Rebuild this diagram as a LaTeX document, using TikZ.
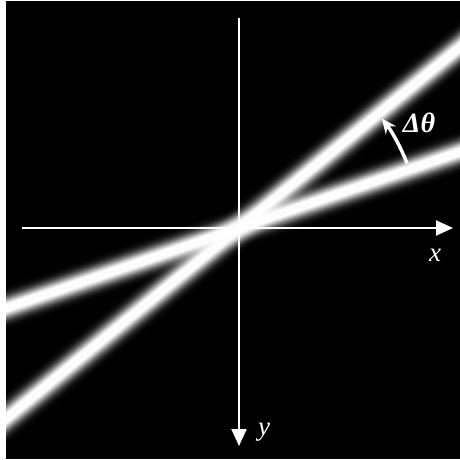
\documentclass[tikz,border=0pt]{standalone}
\usepackage{fontspec}
\setmainfont{Liberation Serif}
\usetikzlibrary{arrows.meta}
\begin{document}
\begin{tikzpicture}[x=1pt,y=1pt,
  axis/.style={white, line width=2pt, -{Triangle[length=17pt,width=15pt]}},
  lbl/.style={white, font=\fontsize{27}{27}\selectfont\itshape, inner sep=0pt},
  turn/.style={white, line width=3.5pt, -{Stealth[length=15pt,width=13pt]}}]
\fill[white] (0,0) rectangle (460,459);
\fill[black] (6,0) rectangle (460,458);
\useasboundingbox (0,0) rectangle (460,459);
\coordinate (O) at (239,231);
\begin{scope}
\clip (6,0) rectangle (460,458);
\foreach \ang in {39.3,19}{
  \foreach \rr in {24,23,...,1}{
    \pgfmathsetmacro\Ia{min(0.995,1.1*exp(-((\rr-1)*(\rr-1))/98))}
    \pgfmathsetmacro\Ib{min(0.995,1.1*exp(-(\rr*\rr)/98))}
    \pgfmathsetmacro\al{1-(1-\Ia)/(1-\Ib)}
    \draw[white, opacity=\al, line width={2*\rr*1pt}] ([shift={(\ang:-400)}]O) -- ([shift={(\ang:400)}]O);
  }
}
\end{scope}
\coordinate (xs) at (22,231);
\coordinate (xe) at (453,231);
\coordinate (ys) at (239,441);
\coordinate (ye) at (239,13);
\draw[axis] (xs) -- (xe);
\draw[axis] (ys) -- (ye);
\node[lbl] (lx) at (435,204) {x};
\node[lbl] (ly) at (264,27) {y};
\node[lbl, font=\fontsize{28}{28}\selectfont\bfseries\itshape] (ld) at (419,336) {Δθ};
\coordinate (a0) at ([shift={(21:180)}]O);
\draw[turn] (a0) arc[start angle=21, end angle=37.5, radius=180];
\end{tikzpicture}
\end{document}
